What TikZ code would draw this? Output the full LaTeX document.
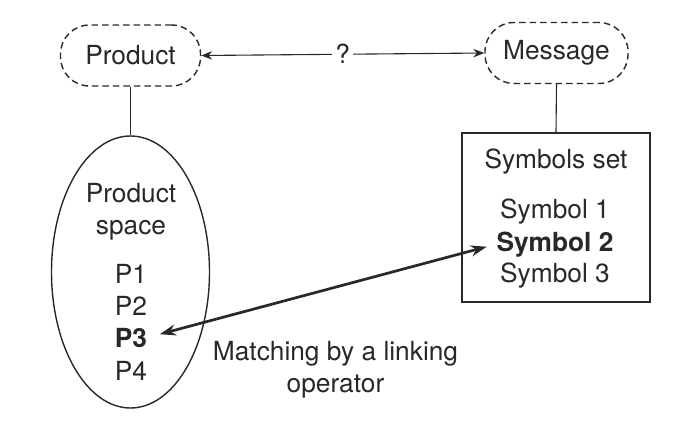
\documentclass[tikz,border=0pt]{standalone}
\usepackage{fontspec}
\setmainfont{TeX Gyre Heros}
\usetikzlibrary{shapes.geometric,arrows.meta}
\definecolor{ink}{HTML}{282828}
\begin{document}
\begin{tikzpicture}[x=1pt,y=-1pt,
  every node/.style={text=ink, font=\fontsize{26.3}{31}\selectfont},
  txt/.style={anchor=base, inner sep=0pt},
  boldtxt/.style={txt, font=\fontsize{26.3}{31}\selectfont\bfseries},
  pill/.style={draw=ink, dash pattern=on 6.5pt off 4pt, line width=1.4pt,
    rounded corners=29pt, minimum height=61pt, inner sep=0pt},
  frame/.style={draw=ink, line width=1.4pt, inner sep=0pt},
  tie/.style={draw=ink, line width=1.1pt},
  query/.style={draw=ink, line width=1.1pt,
    arrows={Stealth[length=11pt,width=8.5pt]-Stealth[length=11pt,width=8.5pt]}},
  linkarrow/.style={draw=ink, line width=2.7pt,
    arrows={Stealth[length=16pt,width=11pt]-Stealth[length=16pt,width=11pt]}}
]
\fill[white] (0,0) rectangle (686,424);
\useasboundingbox (0,0) rectangle (686,424);

% the two dashed concepts at the top
\node[pill, minimum width=140pt] (prod) at (130.5,55.5) {Product};
\node[pill, minimum width=143pt] (msg) at (556.5,53) {Message};
\draw[query] (prod.east) -- (msg.west)
  node[midway, fill=white, inner sep=3pt] {?};

% product space
\node[frame, ellipse, minimum width=158pt, minimum height=272pt] (space) at (130.5,272) {};
\node[txt] (pspace1) at (131,202) {Product};
\node[txt] (pspace2) at (131,234) {space};
\node[txt] (p1) at (131,283) {P1};
\node[txt] (p2) at (131,315) {P2};
\node[boldtxt] (p3) at (131,347) {P3};
\node[txt] (p4) at (131,380) {P4};
\draw[tie] (prod.south) -- (space.north);

% symbols set
\node[frame, minimum width=188pt, minimum height=169pt] (symset) at (556,217.5) {};
\node[txt] (symtitle) at (556,168) {Symbols set};
\node[txt] (sym1) at (555,218) {Symbol 1};
\node[boldtxt] (sym2) at (555,251) {Symbol 2};
\node[txt] (sym3) at (555,282) {Symbol 3};
\draw[tie] (msg.south) -- (symset.north);

% linking operator
\draw[linkarrow, shorten <=13pt, shorten >=10pt] (p3.east) -- (sym2.west);
\node[txt] (match1) at (335.5,360) {Matching by a linking};
\node[txt] (match2) at (335.5,392) {operator};
\end{tikzpicture}
\end{document}
